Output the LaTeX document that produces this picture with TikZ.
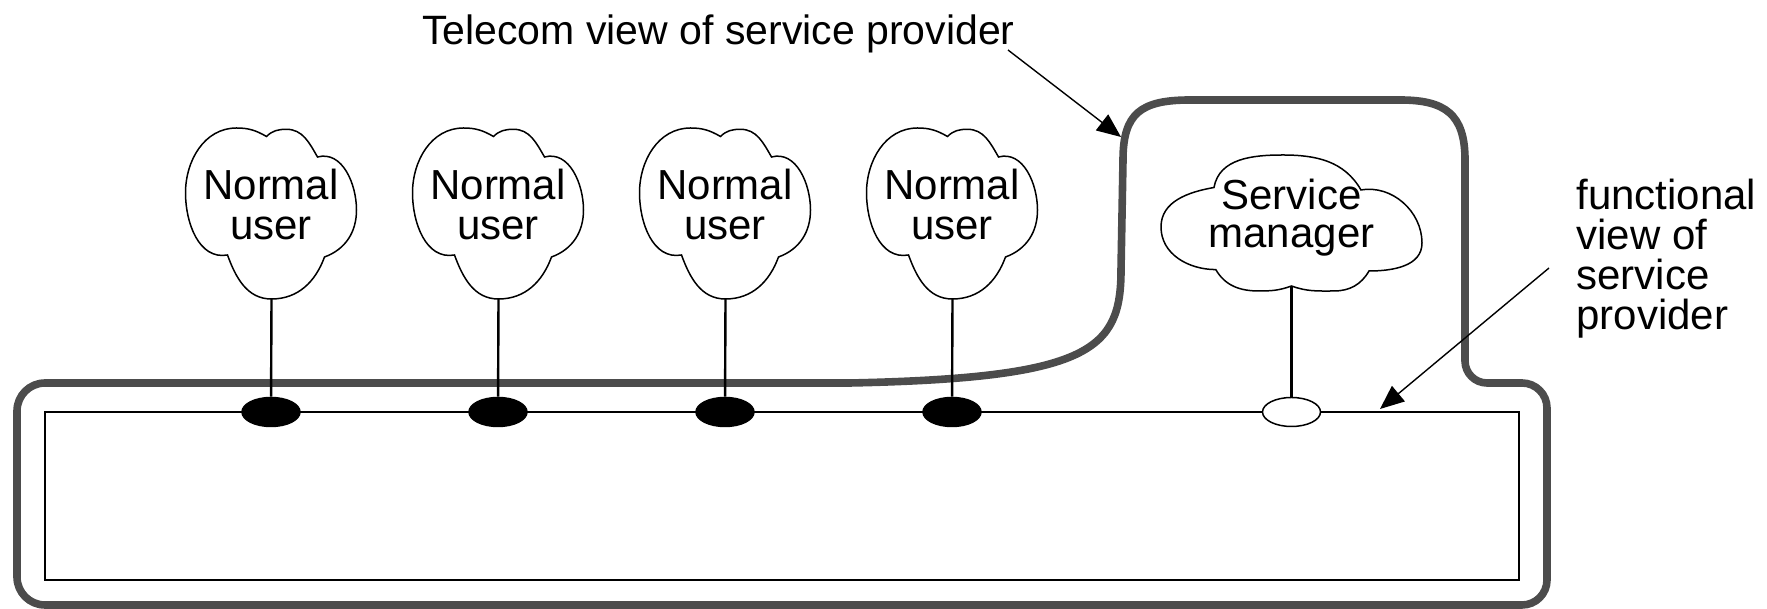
\documentclass[tikz,border=0pt]{standalone}
\usepackage{fontspec}
\setmainfont{Liberation Sans}
\usetikzlibrary{arrows.meta,shapes.geometric}

\tikzset{
  outline/.style={draw=black!70, line width=3.8pt, line join=round},
  cloudline/.style={draw=black, line width=0.75pt, fill=white},
  frame/.style={draw=black, line width=0.9pt},
  stem/.style={draw=black, line width=1.2pt},
  port/.style={ellipse, draw=black, line width=0.75pt, minimum width=29pt, minimum height=14.5pt, inner sep=0pt},
  userport/.style={port, fill=black},
  mgrport/.style={port, fill=white},
  lbl/.style={inner sep=0pt, font=\fontsize{21}{20}\selectfont},
  tight/.style={font=\fontsize{21}{19}\selectfont},
  pointer/.style={draw=black, line width=0.7pt, -{Triangle[length=12pt,width=10pt]}},
}

% tall cloud of a normal user: #1 = name of its foot, #2 = centre x
\newcommand\usercloud[2]{%
  \begin{scope}[shift={({#2-85.5},310)}]
    \draw[cloudline] (86,0) coordinate (#1)
      to[out=180,in=-70] (42,44)
      to[out=190,in=-90] (0,106)
      to[out=90,in=180] (51,171)
      to[out=0,in=150] (81,162.5)
      to[out=45,in=180] (101,169.7)
      to[out=0,in=120] (132,142)
      to[out=15,in=90] (171,89)
      to[out=-90,in=20] (139,42)
      to[out=-110,in=0] (86,0) -- cycle;
  \end{scope}}

\begin{document}
\begin{tikzpicture}[x=0.5pt,y=0.5pt]
\useasboundingbox (0,0) rectangle (1767,609);

% telecom view: thick outline around the bus and the manager
\draw[outline] (850,226) -- (45,226)
  arc[start angle=90,end angle=180,radius=28] -- (17,32)
  arc[start angle=180,end angle=270,radius=28] -- (1522,4)
  arc[start angle=270,end angle=360,radius=25] -- (1547,201)
  arc[start angle=0,end angle=90,radius=25] -- (1487,226)
  arc[start angle=270,end angle=180,radius=22] -- (1465,449)
  .. controls (1465,495) and (1445,509) .. (1400,509) -- (1190,509)
  .. controls (1140,509) and (1123,495) .. (1123,449) -- (1121,339)
  .. controls (1121,259) and (1090,231) .. (850,226) -- cycle;

% functional view: the bus
\draw[frame] (45,29) rectangle (1519,197);

% access points on the bus
\node[userport] (p1) at (271,197) {};
\node[userport] (p2) at (498,197) {};
\node[userport] (p3) at (725,197) {};
\node[userport] (p4) at (952,197) {};
\node[mgrport]  (pm) at (1291.5,197) {};

% normal users
\usercloud{u1}{271}
\usercloud{u2}{498}
\usercloud{u3}{725}
\usercloud{u4}{952}
\node[lbl, align=center, anchor=north] (t1) at (271,440) {Normal\\user};
\node[lbl, align=center, anchor=north] (t2) at (498,440) {Normal\\user};
\node[lbl, align=center, anchor=north] (t3) at (725,440) {Normal\\user};
\node[lbl, align=center, anchor=north] (t4) at (952,440) {Normal\\user};

% service manager
\begin{scope}[shift={(1161,318)}]
  \draw[cloudline] (130.5,5) coordinate (um)
    to[out=-160,in=0] (98,0)
    to[out=180,in=-60] (54.8,21.4)
    to[out=180,in=-90] (0,64)
    to[out=90,in=190] (53,103.5)
    to[out=80,in=180] (121.6,136)
    to[out=0,in=120] (200,101)
    to[out=10,in=90] (261,48)
    to[out=-90,in=0] (208,20)
    to[out=-120,in=0] (172.8,0)
    to[out=180,in=-20] (130.5,5) -- cycle;
\end{scope}
\node[lbl, tight, align=center, anchor=north] (tm) at (1291.5,430) {Service\\manager};

% stems from the parties down to the bus
\draw[stem] (u1) -- (p1);
\draw[stem] (u2) -- (p2);
\draw[stem] (u3) -- (p3);
\draw[stem] (u4) -- (p4);
\draw[stem] (um) -- (pm);

% captions and their pointers
\node[lbl, anchor=base east, font=\fontsize{20.5}{20}\selectfont] (title) at (1015,564) {Telecom view of service provider};
\node[lbl, align=left, anchor=north west] (func) at (1576,430)
  {functional\\view of\\service\\provider};

\coordinate (a1s) at (1008,559);
\coordinate (a1e) at (1121,472);
\coordinate (a2s) at (1549,341);
\coordinate (a2e) at (1380,200);
\draw[pointer] (a1s) -- (a1e);
\draw[pointer] (a2s) -- (a2e);
\end{tikzpicture}
\end{document}
